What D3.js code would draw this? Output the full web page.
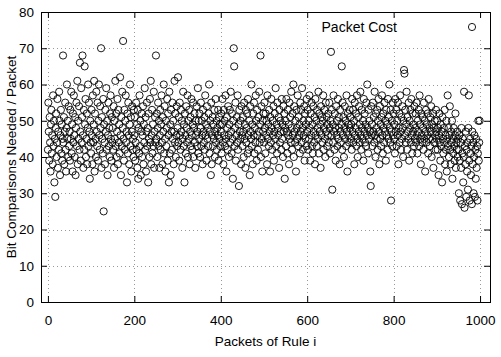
<!DOCTYPE html>
<html>
<head>
<meta charset="utf-8">
<script src="https://cdn.jsdelivr.net/npm/d3@7"></script>
<style>
  body { margin: 0; background: #fff; }
  svg text { font-family: "Liberation Sans", Arial, sans-serif; }
</style>
</head>
<body>
<script>
// packet cost per packet index in blocks of 50
const costs = [
  42,55,47,39,51,44,36,49,53,41,46,38,57,43,50,33,45,29,48,52,40,44,56,37,47,42,58,50,35,46,53,41,49,39,45,68,44,51,38,47,55,42,36,48,60,45,50,40,54,43,
  47,39,53,45,58,41,49,36,52,44,57,46,40,51,35,48,55,43,61,38,50,45,54,42,66,47,39,59,44,51,68,46,37,53,42,65,49,56,40,45,52,38,48,60,43,55,47,34,50,44,
  41,53,46,38,57,44,49,61,36,52,45,40,58,47,43,55,39,50,60,46,42,54,48,70,37,51,45,41,56,25,49,44,38,53,47,59,42,50,35,46,55,43,48,40,52,57,45,39,51,44,
  48,42,54,37,50,45,61,43,52,40,47,56,38,53,44,49,41,62,46,35,51,43,58,48,72,45,39,53,42,50,57,44,47,33,52,41,55,46,38,49,60,43,51,36,47,54,42,45,40,53,
  46,51,39,44,55,42,49,37,53,34,48,41,57,43,50,35,47,52,40,46,54,38,49,44,59,42,51,36,47,55,43,48,33,52,45,40,56,44,61,38,46,53,41,49,43,58,37,47,51,44,
  68,45,52,40,48,55,43,50,37,46,53,42,49,57,44,38,51,47,60,41,54,45,36,50,43,48,56,39,52,46,33,58,41,49,35,53,47,42,55,45,50,38,47,61,44,52,40,46,54,43,
  48,62,44,51,39,55,46,42,53,47,50,37,45,58,43,49,33,52,46,41,54,48,44,57,40,50,45,53,38,47,51,43,56,46,42,49,55,40,48,52,44,37,50,46,54,43,47,59,41,50,
  45,52,40,48,55,43,50,46,38,53,47,44,51,42,57,46,49,39,54,45,48,43,52,60,41,47,50,35,55,38,46,51,43,49,45,53,40,47,56,44,50,42,48,46,53,39,51,45,49,43,
  47,52,41,49,56,44,38,53,46,50,43,57,45,36,51,48,42,54,46,40,49,53,44,58,47,41,52,45,34,50,70,65,43,48,55,39,46,51,44,57,42,49,32,53,47,45,50,38,54,46,
  43,51,47,40,55,45,49,37,53,44,48,52,41,56,46,42,50,35,54,47,45,60,43,49,38,52,46,55,41,48,44,57,50,39,53,46,42,51,47,58,44,49,68,40,54,45,36,50,47,52,
  44,55,48,41,52,46,50,38,57,45,49,43,53,47,36,51,44,56,48,42,50,46,54,39,47,52,45,59,43,49,41,55,48,46,51,37,53,44,50,47,42,56,45,49,40,54,47,52,34,48,
  50,43,56,47,41,53,46,49,38,55,45,51,44,58,48,42,52,46,60,40,54,47,44,50,36,53,48,45,57,43,51,46,49,41,55,47,53,44,59,48,42,50,46,54,39,52,45,49,43,56,
  47,53,42,50,45,57,48,39,52,46,55,43,49,41,54,47,44,51,38,56,46,50,43,53,48,45,58,41,52,47,49,37,54,46,51,44,50,57,42,48,53,45,40,55,47,51,43,49,46,52,
  44,55,48,41,50,69,46,53,31,49,44,57,47,42,52,48,39,54,46,50,43,56,45,51,48,38,53,47,44,49,65,42,55,46,51,40,48,54,45,50,43,57,47,36,52,46,49,44,53,48,
  51,45,49,42,56,47,53,44,50,38,55,46,48,52,43,57,45,40,51,47,54,44,49,58,46,42,53,48,45,50,39,56,47,52,44,49,43,55,46,60,48,41,53,45,50,47,36,32,54,46,
  49,43,55,47,51,44,58,46,40,52,48,45,53,42,50,56,47,38,54,45,49,43,51,57,46,41,52,48,44,55,47,50,39,53,46,49,42,56,45,51,60,48,44,53,28,47,50,43,55,46,
  52,45,49,41,56,47,53,43,50,46,55,38,48,52,44,57,47,42,51,45,54,48,40,50,64,63,46,53,44,49,58,42,51,47,45,55,39,50,48,53,44,56,46,41,52,47,49,43,54,45,
  48,52,44,55,46,41,50,47,53,43,57,45,49,38,52,46,44,51,48,42,55,45,50,36,47,53,44,49,46,52,41,56,45,48,43,51,47,54,40,49,45,52,37,48,44,50,46,42,53,47,
  45,50,42,48,35,46,52,44,39,49,43,47,33,51,45,41,48,44,53,38,46,42,50,36,45,57,43,48,40,46,54,42,38,47,44,50,34,45,41,48,43,39,46,52,37,44,42,47,40,45,
  42,30,46,39,28,44,37,48,27,41,45,33,40,58,26,43,38,47,29,42,36,44,31,48,57,39,28,45,41,35,43,27,47,38,44,30,40,46,29,42,34,45,37,43,28,41,50,39,44,50
];
const xTicks = [0, 200, 400, 600, 800, 1000];
const yTicks = [0, 10, 20, 30, 40, 50, 60, 70, 80];
const seriesName = "Packet Cost";

const W = 501, H = 357;
const m = { left: 41, right: 11, top: 12, bottom: 55 };

const svg = d3.select("body").append("svg")
    .attr("width", W)
    .attr("height", H);

const x = d3.scaleLinear()
    .domain([-16, 1023])
    .range([m.left, W - m.right]);
const y = d3.scaleLinear()
    .domain([0, 80])
    .range([H - m.bottom, m.top]);

// dotted grid
const grid = svg.append("g")
    .attr("stroke", "#999")
    .attr("stroke-width", 1)
    .attr("stroke-dasharray", "1,3");
grid.selectAll(".gx")
    .data(xTicks)
    .join("line")
        .attr("x1", d => Math.round(x(d)) + 0.5)
        .attr("x2", d => Math.round(x(d)) + 0.5)
        .attr("y1", y(80))
        .attr("y2", y(0));
grid.selectAll(".gy")
    .data(yTicks.slice(1, -1))
    .join("line")
        .attr("x1", x.range()[0])
        .attr("x2", x.range()[1])
        .attr("y1", d => Math.round(y(d)) + 0.5)
        .attr("y2", d => Math.round(y(d)) + 0.5);

// points
svg.append("g")
    .attr("fill", "none")
    .attr("stroke", "#000")
    .attr("stroke-width", 0.9)
    .selectAll("circle")
    .data(costs)
    .join("circle")
        .attr("cx", (d, i) => x(i))
        .attr("cy", d => y(d))
        .attr("r", 3.6);

// axes with inward ticks, mirrored on top and right
const tickLen = 6;
const fs = 13.5;
svg.append("g")
    .attr("transform", `translate(0,${y(0)})`)
    .call(d3.axisBottom(x).tickValues(xTicks).tickFormat(d3.format("d"))
        .tickSizeInner(-tickLen).tickSizeOuter(0).tickPadding(13))
    .call(g => g.select(".domain").remove())
    .call(g => g.selectAll("text").attr("font-size", fs).attr("fill", "#000"));
svg.append("g")
    .attr("transform", `translate(0,${y(80)})`)
    .call(d3.axisTop(x).tickValues(xTicks).tickSizeInner(-tickLen).tickSizeOuter(0).tickFormat(""))
    .call(g => g.select(".domain").remove());
svg.append("g")
    .attr("transform", `translate(${x.range()[0]},0)`)
    .call(d3.axisLeft(y).tickValues(yTicks).tickSizeInner(-tickLen).tickSizeOuter(0).tickPadding(7))
    .call(g => g.select(".domain").remove())
    .call(g => g.selectAll("text").attr("font-size", fs).attr("fill", "#000"));
svg.append("g")
    .attr("transform", `translate(${x.range()[1]},0)`)
    .call(d3.axisRight(y).tickValues(yTicks).tickSizeInner(-tickLen).tickSizeOuter(0).tickFormat(""))
    .call(g => g.select(".domain").remove());

// frame
svg.append("rect")
    .attr("x", x.range()[0] + 0.5)
    .attr("y", y(80) + 0.5)
    .attr("width", x.range()[1] - x.range()[0])
    .attr("height", y(0) - y(80))
    .attr("fill", "none")
    .attr("stroke", "#000");

// legend
const lg = svg.append("g");
lg.append("rect")
    .attr("x", 316).attr("y", 18).attr("width", 168).attr("height", 20)
    .attr("fill", "#fff");
lg.append("text")
    .attr("x", 397).attr("y", 32)
    .attr("text-anchor", "end")
    .attr("font-size", 14)
    .text(seriesName);
lg.append("circle")
    .attr("cx", 472).attr("cy", 27).attr("r", 3.6)
    .attr("fill", "none").attr("stroke", "#000").attr("stroke-width", 0.9);

// axis titles
svg.append("text")
    .attr("x", (x.range()[0] + x.range()[1]) / 2)
    .attr("y", 346)
    .attr("text-anchor", "middle")
    .attr("font-size", fs)
    .text("Packets of Rule i");
svg.append("text")
    .attr("transform", `translate(16,${(y(0) + y(80)) / 2}) rotate(-90)`)
    .attr("text-anchor", "middle")
    .attr("font-size", fs)
    .text("Bit Comparisons Needed / Packet");
</script>
</body>
</html>
